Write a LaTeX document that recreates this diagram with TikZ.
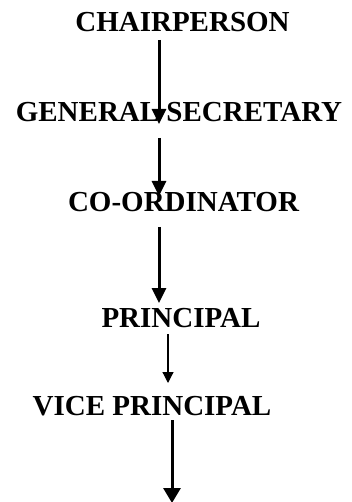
\documentclass[tikz,border=0pt]{standalone}
\usepackage{fontspec}
\setmainfont{Liberation Serif}
\usetikzlibrary{arrows.meta}
\begin{document}
\begin{tikzpicture}[x=1pt,y=-1pt,
  title/.style={font=\bfseries\fontsize{29}{32}\selectfont, inner sep=0pt, anchor=base},
  bigarrow/.style={line width=3pt, -{Triangle[length=15pt,width=14pt]}},
  bottomarrow/.style={line width=3pt, -{Triangle[length=15pt,width=17pt]}},
  smallarrow/.style={line width=1.2pt, -{Triangle[length=11pt,width=11pt]}}]
\useasboundingbox (0,0) rectangle (352,502);
\node[title] (chair) at (182.5,32) {CHAIRPERSON};
\node[title] (gensec) at (179,122) {GENERAL SECRETARY};
\node[title] (coord) at (183.5,212) {CO-ORDINATOR};
\node[title] (princ) at (181,327) {PRINCIPAL};
\node[title] (vice) at (152,415) {VICE PRINCIPAL};
\coordinate (a1s) at (159,40);  \coordinate (a1e) at (159,124);
\coordinate (a2s) at (159,138); \coordinate (a2e) at (159,196);
\coordinate (a3s) at (159,227); \coordinate (a3e) at (159,303);
\coordinate (a4s) at (168,334); \coordinate (a4e) at (168,383);
\coordinate (a5s) at (172,420); \coordinate (a5e) at (172,503);
\draw[bigarrow] (a1s) -- (a1e);
\draw[bigarrow] (a2s) -- (a2e);
\draw[bigarrow] (a3s) -- (a3e);
\draw[smallarrow] (a4s) -- (a4e);
\draw[bottomarrow] (a5s) -- (a5e);
\end{tikzpicture}
\end{document}
